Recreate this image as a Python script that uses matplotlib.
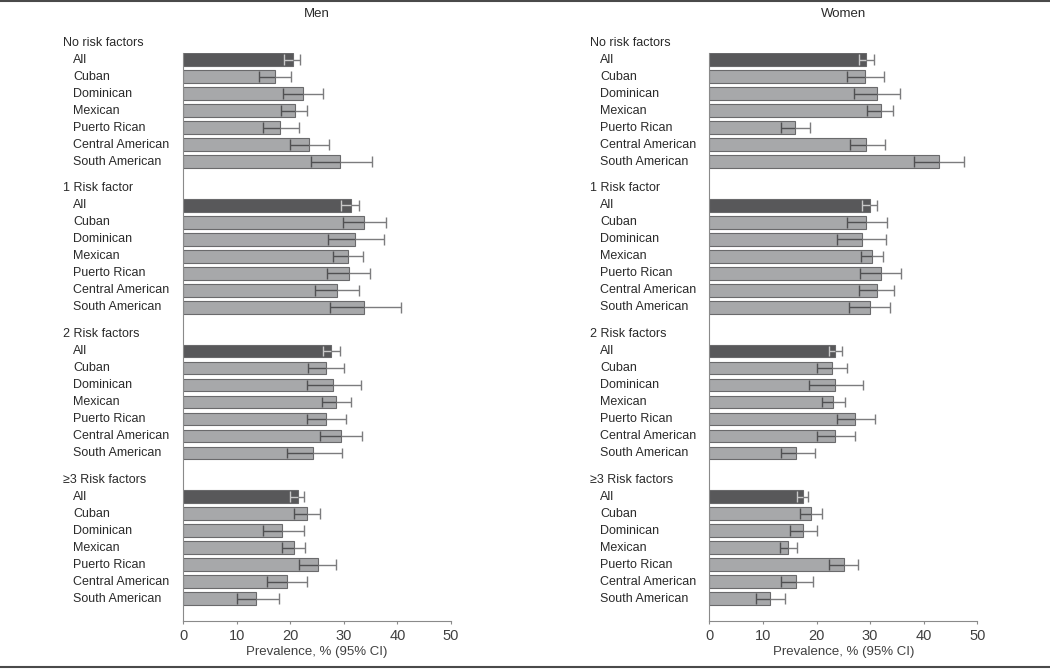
import numpy as np
import matplotlib
matplotlib.use("Agg")
import matplotlib.pyplot as plt
from matplotlib.lines import Line2D
from matplotlib.transforms import blended_transform_factory

plt.rcParams['font.family'] = ['Liberation Sans', 'DejaVu Sans']
plt.rcParams['font.size'] = 9

# --- Data (prevalence %, 95% CI) ---
RISK_GROUPS = ["No risk factors", "1 Risk factor", "2 Risk factors", "\u22653 Risk factors"]
ORIGINS = ["All", "Cuban", "Dominican", "Mexican", "Puerto Rican",
           "Central American", "South American"]
X_TICKS = [0, 10, 20, 30, 40, 50]

men_prev = [[20.4, 17.1, 22.3, 20.8, 18.0, 23.5, 29.3],
            [31.3, 33.8, 32.1, 30.8, 31.0, 28.7, 33.8],
            [27.6, 26.7, 27.9, 28.6, 26.7, 29.4, 24.2],
            [21.4, 23.1, 18.4, 20.6, 25.1, 19.3, 13.5]]
men_lo = [[18.9, 14.1, 18.6, 18.3, 14.8, 19.9, 23.8],
          [29.5, 29.9, 27.0, 27.9, 26.9, 24.6, 27.4],
          [26.1, 23.3, 23.1, 25.9, 23.1, 25.5, 19.3],
          [20.0, 20.7, 14.8, 18.4, 21.7, 15.6, 10.0]]
men_hi = [[21.8, 20.2, 26.1, 23.1, 21.6, 27.3, 35.3],
          [32.9, 37.9, 37.4, 33.5, 34.9, 32.9, 40.6],
          [29.2, 30.1, 33.1, 31.3, 30.3, 33.4, 29.6],
          [22.6, 25.6, 22.6, 22.7, 28.6, 23.1, 17.9]]

women_prev = [[29.3, 29.1, 31.2, 32.0, 16.0, 29.3, 42.9],
              [30.0, 29.3, 28.4, 30.4, 32.0, 31.3, 30.0],
              [23.4, 22.9, 23.4, 23.1, 27.2, 23.5, 16.2],
              [17.5, 18.9, 17.5, 14.7, 25.1, 16.2, 11.4]]
women_lo = [[27.9, 25.7, 27.0, 29.4, 13.3, 26.3, 38.2],
            [28.5, 25.6, 23.9, 28.3, 28.2, 27.9, 26.0],
            [22.4, 20.1, 18.6, 21.1, 23.8, 20.0, 13.3],
            [16.4, 16.9, 15.0, 13.1, 22.4, 13.3, 8.8]]
women_hi = [[30.7, 32.6, 35.5, 34.3, 18.8, 32.8, 47.6],
            [31.3, 33.1, 33.0, 32.4, 35.8, 34.5, 33.7],
            [24.8, 25.7, 28.7, 25.3, 31.0, 27.2, 19.7],
            [18.4, 21.0, 20.1, 16.4, 27.7, 19.3, 14.2]]

# --- Style ---
DARK = '#58585a'
LIGHT = '#a7a8aa'
EDGE = '#6a6a6c'
OUTER_ERR = '#7c7c7e'
INNER_ON_LIGHT = '#505052'
INNER_ON_DARK = '#c8c8c8'
TEXT = '#2a2a2a'
AXIS = '#8a8a8a'
BAR_H = 0.75
CAP_H = 0.31
GROUP_STRIDE = 8.57

W, H = 1050, 669
fig = plt.figure(figsize=(W / 100, H / 100), dpi=100)


def draw_panel(x0, x1, head_x, title, prev, lo, hi):
    top, bottom = 53.3, 621
    ax = fig.add_axes([x0 / W, 1 - bottom / H, (x1 - x0) / W, (bottom - top) / H])
    trans = blended_transform_factory(fig.transFigure, ax.transData)
    for g, group in enumerate(RISK_GROUPS):
        base = g * GROUP_STRIDE
        ax.text(head_x / W, base - 1, group, transform=trans,
                ha='left', va='center', color=TEXT)
        for r, origin in enumerate(ORIGINS):
            y = base + r
            v, l, h = prev[g][r], lo[g][r], hi[g][r]
            is_all = r == 0
            ax.barh(y, v, height=BAR_H, color=DARK if is_all else LIGHT,
                    edgecolor=EDGE, linewidth=0.8, zorder=2)
            inner = INNER_ON_DARK if is_all else INNER_ON_LIGHT
            ax.hlines(y, l, v, color=inner, lw=1.0, zorder=3)
            ax.vlines(l, y - CAP_H, y + CAP_H, color=inner, lw=1.0, zorder=3)
            ax.hlines(y, v, h, color=OUTER_ERR, lw=1.0, zorder=3)
            ax.vlines(h, y - CAP_H, y + CAP_H, color=OUTER_ERR, lw=1.0, zorder=3)
            ax.text((head_x + 10) / W, y, origin, transform=trans,
                    ha='left', va='center', color=TEXT)

    last = (len(RISK_GROUPS) - 1) * GROUP_STRIDE + len(ORIGINS) - 1
    ax.set_ylim(last + 1.32, -BAR_H / 2)
    ax.set_xlim(0, 50)
    ax.set_xticks(X_TICKS)
    ax.set_yticks([])
    for s in ['top', 'right']:
        ax.spines[s].set_visible(False)
    for s in ['left', 'bottom']:
        ax.spines[s].set_color(AXIS)
        ax.spines[s].set_linewidth(0.8)
    ax.tick_params(axis='x', length=2.5, width=0.8, color=AXIS,
                   labelcolor='#404040', labelsize=10.5, pad=3.5)
    ax.set_xlabel('Prevalence, % (95% CI)', color='#404040', fontsize=9.5, labelpad=2)
    fig.text((x0 + x1) / 2 / W, 1 - 14 / H, title, ha='center', va='center',
             color=TEXT, fontsize=9.5)
    return ax


draw_panel(183.3, 451.0, 63, 'Men', men_prev, men_lo, men_hi)
draw_panel(709.3, 977.3, 590, 'Women', women_prev, women_lo, women_hi)

# thin rules at top and bottom of the figure
for yy in (1 - 1 / H, 1 - 667 / H):
    fig.add_artist(Line2D([0, 1], [yy, yy], transform=fig.transFigure,
                          color='#4a4a4a', lw=1.5))

fig.savefig('out.png', dpi=100)
